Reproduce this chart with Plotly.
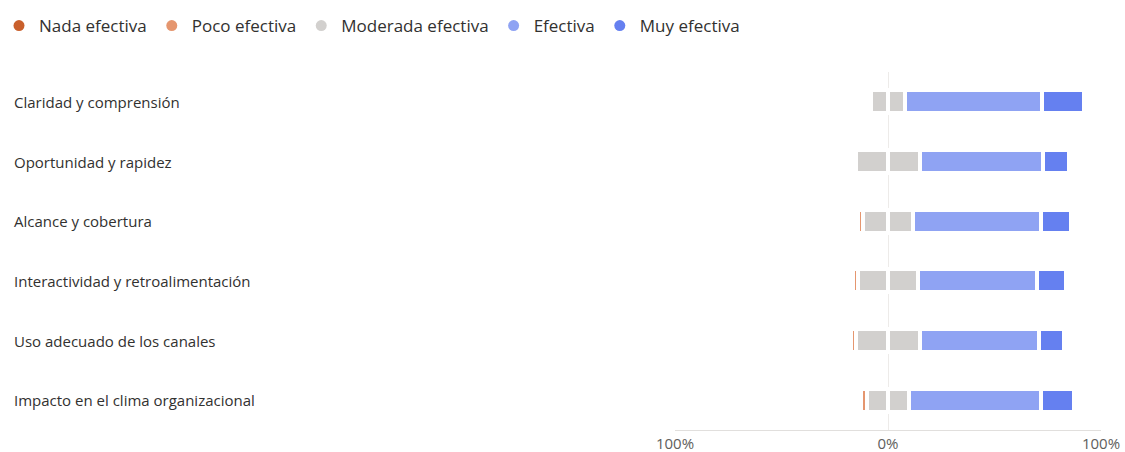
import plotly.graph_objects as go

# Survey results: share of answers per rating (%)
aspectos = [
    "Claridad y comprensión",
    "Oportunidad y rapidez",
    "Alcance y cobertura",
    "Interactividad y retroalimentación",
    "Uso adecuado de los canales",
    "Impacto en el clima organizacional",
]
nada_efectiva = [0, 0, 0, 0, 0, 0]
poco_efectiva = [0, 0, 2.4, 2.6, 2.7, 2.5]
moderada_efectiva = [16.4, 30.0, 23.8, 27.8, 29.8, 20.0]
efectiva = [64.0, 58.0, 59.8, 56.0, 56.0, 62.0]
muy_efectiva = [19.6, 12.0, 14.0, 13.6, 11.5, 15.5]

niveles = ["Nada efectiva", "Poco efectiva", "Moderada efectiva", "Efectiva", "Muy efectiva"]
colores = ["#C9602C", "#E5966F", "#D2D0CE", "#8FA3F3", "#6580F0"]

FONT = "Segoe UI, Open Sans, Noto Sans, sans-serif"
TEXT = "#323130"
BAR_W = 0.39
LINE = dict(color="white", width=4)

# plot area in pixels
L, R, T, B = 675, 24, 72, 22
W, H = 1125, 452
PW, PH = W - L - R, H - T - B

fig = go.Figure()

# Neutral answers are split evenly around zero
mod_left = [-v / 2 for v in moderada_efectiva]
mod_right = [v / 2 for v in moderada_efectiva]

def add_bar(values, color):
    fig.add_trace(go.Bar(
        y=aspectos, x=values, orientation="h", width=BAR_W,
        marker=dict(color=color, line=LINE),
        showlegend=False, hoverinfo="skip",
    ))

# negative side, stacked outward from zero
add_bar(mod_left, colores[2])
add_bar([-v for v in poco_efectiva], colores[1])
add_bar([-v for v in nada_efectiva], colores[0])
# positive side
add_bar(mod_right, colores[2])
add_bar(efectiva, colores[3])
add_bar(muy_efectiva, colores[4])

# legend entries with round markers
for nombre, color in zip(niveles, colores):
    fig.add_trace(go.Scatter(
        x=[None], y=[None], mode="markers", name=nombre,
        marker=dict(symbol="circle", size=11, color=color),
        showlegend=True,
    ))

# category labels, left aligned at the page edge
for a in aspectos:
    fig.add_annotation(
        x=(12 - L) / PW, xref="paper", xanchor="left",
        y=a, yref="y", yanchor="middle",
        text=a, showarrow=False,
        font=dict(family=FONT, size=15, color=TEXT),
    )

fig.update_layout(
    width=W, height=H,
    margin=dict(l=L, r=R, t=T, b=B, autoexpand=False),
    barmode="relative",
    bargap=0,
    paper_bgcolor="white",
    plot_bgcolor="white",
    font=dict(family=FONT, color=TEXT),
    legend=dict(
        orientation="h", x=(-1 - L) / PW, xanchor="left",
        y=(PH + T - 8) / PH, yanchor="top",
        font=dict(family=FONT, size=17, color=TEXT),
        itemwidth=30, tracegroupgap=0,
    ),
    xaxis=dict(
        range=[-100, 100],
        tickvals=[-100, 0, 100],
        ticktext=["100%", "0%", "100%"],
        showgrid=True, gridcolor="#EDEBE9", gridwidth=1,
        zeroline=True, zerolinecolor="#EDEBE9", zerolinewidth=1,
        showline=True, linecolor="#E1DFDD", linewidth=1,
        ticks="", tickfont=dict(family=FONT, size=15, color="#605E5C"),
        fixedrange=True,
    ),
    yaxis=dict(
        categoryorder="array", categoryarray=aspectos,
        autorange="reversed",
        showticklabels=False, showgrid=False, zeroline=False,
        fixedrange=True,
    ),
)

fig.write_html("out.html")
